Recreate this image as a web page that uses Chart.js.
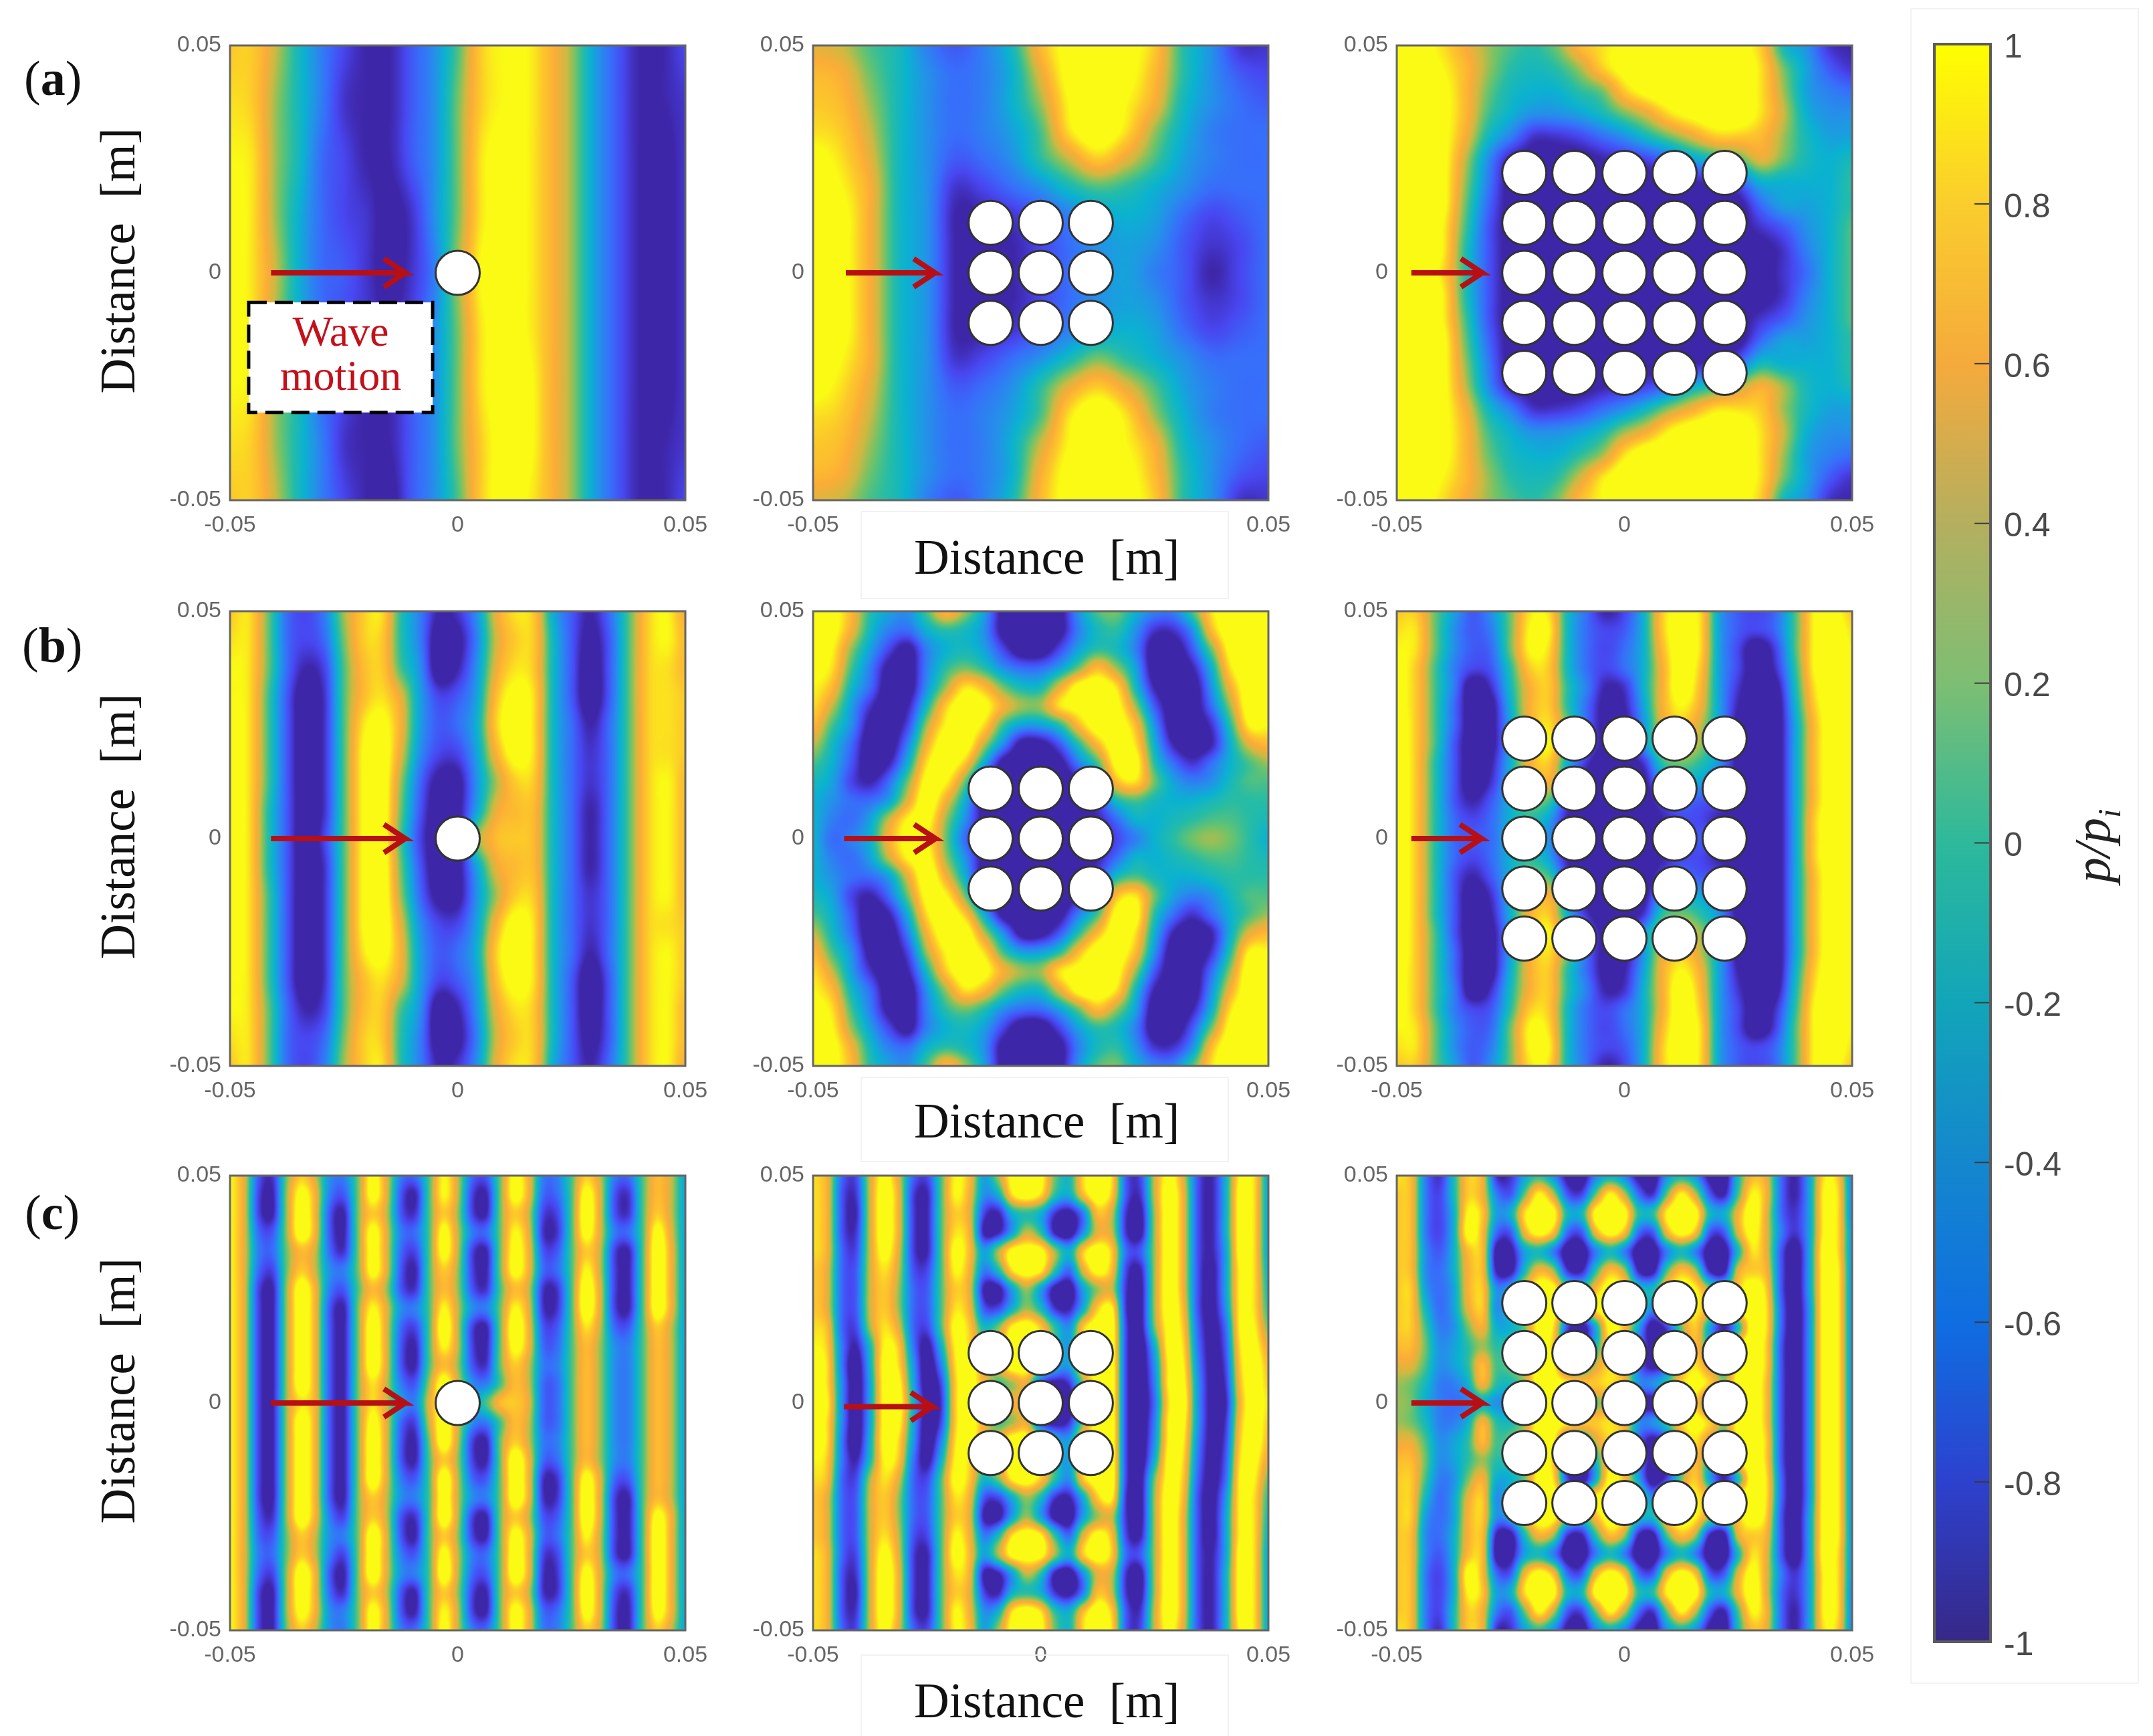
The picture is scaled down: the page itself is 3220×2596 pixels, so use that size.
<!DOCTYPE html>
<html>
<head>
<meta charset="utf-8">
<title>Pressure field p/pi around cylinder arrays</title>
<script src="https://cdn.jsdelivr.net/npm/chart.js@4"></script>
<style>
  html, body { margin: 0; background: #fff; }
  #page { position: relative; width: 3220px; height: 2596px; overflow: hidden; background: #fff; }
  #page canvas { position: absolute; }
  .tag { position: absolute; font: 74px "Liberation Serif", serif; color: #111; line-height: 1; }
  .frame { position: absolute; border: 2px solid #f2f2f2; box-sizing: border-box; }
  #cbLabel { position: absolute; font: italic 76px "Liberation Serif", serif; color: #222; line-height: 1;
             transform: translate(-50%, -50%) rotate(-90deg); white-space: nowrap; }
  #cbLabel sub { font-size: 48px; }
</style>
</head>
<body>
<div id="page"></div>
<script>
// field values are read off the picture, in tenths of p/pi, rows run top to bottom
// anything past +-10 just saturates the colour map
const fieldA1 = [
  [8,8,4,-1,-5,-8,-10,-10,-7,-4,1,8,10,10,7,3,-3,-7,-10,-10,-8],
  [9,8,3,-1,-5,-9,-10,-10,-7,-4,2,8,10,10,7,3,-3,-7,-10,-10,-9],
  [10,9,3,-1,-6,-8,-10,-10,-7,-4,2,9,11,10,7,3,-3,-7,-10,-11,-9],
  [11,9,3,-2,-6,-8,-9,-11,-9,-4,2,9,11,10,7,3,-3,-7,-10,-11,-9],
  [11,9,4,-2,-6,-7,-9,-11,-9,-5,3,10,11,10,7,3,-3,-7,-10,-11,-9],
  [11,9,3,-2,-6,-8,-9,-10,-8,-4,2,9,11,10,7,3,-3,-7,-10,-11,-9],
  [10,9,3,-1,-6,-8,-10,-10,-7,-4,2,9,11,11,7,3,-3,-7,-10,-11,-9],
  [9,8,3,-1,-5,-9,-10,-10,-7,-4,2,8,11,11,7,3,-3,-7,-10,-10,-9],
  [8,8,4,-1,-5,-8,-10,-11,-7,-4,1,8,11,10,7,3,-3,-7,-10,-10,-8]
];
const fieldA2 = [
  [5,4,1,-1,-5,-7,-5,-1,7,11,11,11,8,0,-4,-9,-9],
  [7,6,2,-1,-4,-6,-5,-2,5,11,12,11,7,0,-4,-7,-8],
  [8,7,3,-1,-4,-6,-5,-2,3,10,12,10,6,-1,-4,-6,-7],
  [9,8,4,-1,-4,-6,-5,-3,1,9,12,9,3,-2,-5,-6,-6],
  [11,9,5,-1,-4,-7,-6,-4,0,4,8,5,1,-3,-5,-6,-6],
  [12,10,6,-1,-4,-9,-8,-6,-4,-1,1,0,-2,-4,-6,-6,-6],
  [12,11,6,-1,-4,-10,-10,-9,-7,-5,-3,-2,-3,-6,-8,-7,-6],
  [12,11,6,-1,-4,-10,-11,-10,-8,-6,-4,-3,-4,-7,-9,-8,-6],
  [12,11,6,-1,-4,-10,-11,-10,-8,-6,-4,-3,-5,-7,-10,-8,-6],
  [12,11,6,-1,-4,-10,-11,-10,-8,-6,-4,-3,-4,-7,-9,-8,-6],
  [12,11,6,-1,-4,-10,-10,-9,-7,-5,-3,-2,-3,-6,-8,-7,-6],
  [12,10,6,-1,-4,-9,-8,-6,-4,-1,2,0,-2,-4,-6,-6,-6],
  [11,9,5,-1,-4,-7,-6,-4,0,5,8,5,1,-3,-5,-6,-6],
  [9,8,4,-1,-4,-6,-5,-3,1,9,12,9,3,-2,-5,-6,-6],
  [8,7,3,-1,-4,-6,-5,-2,4,10,12,10,6,-1,-4,-6,-7],
  [7,6,2,-1,-4,-6,-5,-2,6,11,12,11,7,0,-4,-7,-8],
  [5,4,1,-1,-5,-7,-5,-1,7,11,11,11,8,0,-4,-9,-9]
];
const fieldA3 = [
  [10,11,9,6,3,1,0,2,7,9,11,12,12,12,12,11,8,-1,-4,-9,-10],
  [10,12,10,7,3,0,-1,0,3,8,11,12,12,12,12,12,9,2,-3,-7,-9],
  [11,12,11,7,2,-1,-2,-2,0,2,8,11,12,12,12,12,9,3,-3,-5,-6],
  [12,12,11,7,1,-2,-4,-4,-3,-1,2,5,9,11,12,12,9,4,-2,-4,-4],
  [12,12,11,6,-1,-5,-9,-9,-8,-6,-4,-1,2,5,8,8,7,3,-1,-3,-3],
  [12,12,11,4,-4,-10,-11,-11,-11,-10,-9,-8,-6,-3,-1,1,5,2,-1,-2,-1],
  [12,12,11,3,-5,-11,-11,-11,-11,-11,-11,-11,-11,-10,-9,-7,-2,-2,-2,-2,0],
  [12,12,11,2,-6,-11,-11,-11,-11,-11,-11,-11,-11,-11,-11,-11,-6,-3,-3,-2,0],
  [12,12,10,1,-7,-11,-11,-11,-11,-11,-11,-11,-11,-11,-11,-11,-9,-7,-4,-2,1],
  [12,12,10,0,-7,-11,-11,-11,-11,-11,-11,-11,-11,-11,-11,-11,-11,-9,-5,-2,1],
  [12,12,9,0,-7,-11,-11,-11,-11,-11,-11,-11,-11,-11,-11,-11,-11,-9,-6,-2,1],
  [12,12,10,0,-7,-11,-11,-11,-11,-11,-11,-11,-11,-11,-11,-11,-11,-9,-5,-2,1],
  [12,12,10,1,-7,-11,-11,-11,-11,-11,-11,-11,-11,-11,-11,-11,-9,-7,-4,-2,1],
  [12,12,11,2,-6,-11,-11,-11,-11,-11,-11,-11,-11,-11,-11,-11,-6,-3,-3,-2,0],
  [12,12,11,3,-5,-11,-11,-11,-11,-11,-11,-11,-11,-10,-9,-6,-1,-2,-2,-2,0],
  [12,12,11,4,-4,-10,-11,-11,-11,-10,-9,-8,-6,-2,0,3,6,3,-1,-2,-1],
  [12,12,11,6,-1,-5,-9,-9,-8,-6,-4,-1,3,6,9,9,8,3,-1,-3,-3],
  [12,12,11,7,1,-2,-4,-4,-3,-1,3,6,10,12,12,12,9,4,-2,-4,-4],
  [11,12,11,7,2,-1,-2,-2,0,3,9,12,12,12,12,12,9,3,-3,-5,-6],
  [10,12,10,7,3,0,-1,0,4,9,12,12,12,12,12,12,9,2,-3,-7,-9],
  [10,11,9,6,3,1,0,2,7,10,12,12,12,12,12,11,8,-1,-4,-9,-10]
];
const fieldB1 = [
  [8,9,2,-6,-8,-5,3,8,9,0,-5,-10,-9,-4,5,9,8,-2,-7,-10,-6,1,8,10,6],
  [9,9,2,-6,-8,-6,2,8,8,0,-5,-12,-11,-5,4,8,8,-1,-7,-11,-7,1,8,10,7],
  [10,9,2,-6,-10,-8,1,7,8,1,-4,-12,-10,-4,5,9,8,-1,-7,-12,-7,1,8,9,7],
  [10,9,1,-7,-12,-9,1,7,9,5,-3,-8,-7,-3,7,11,9,-1,-7,-12,-7,1,8,9,8],
  [11,9,1,-7,-12,-9,1,9,11,6,-3,-7,-6,-2,8,12,9,-1,-6,-10,-6,1,8,9,8],
  [11,9,1,-7,-12,-9,1,10,12,5,-4,-8,-8,-3,6,11,9,-1,-6,-9,-6,1,8,9,8],
  [11,9,1,-7,-12,-9,1,10,12,3,-6,-11,-11,-4,3,8,8,-1,-6,-9,-6,1,8,10,7],
  [11,9,0,-7,-12,-9,1,10,12,2,-7,-12,-11,-3,5,7,7,-1,-6,-10,-6,1,8,10,7],
  [11,9,0,-7,-12,-8,1,10,12,1,-8,-12,-12,2,7,8,7,-1,-6,-10,-6,1,8,10,7],
  [11,9,0,-7,-12,-9,1,10,12,2,-7,-12,-11,-3,5,7,7,-1,-6,-10,-6,1,8,10,7],
  [11,9,1,-7,-12,-9,1,10,12,3,-6,-11,-11,-4,3,8,8,-1,-6,-9,-6,1,8,10,7],
  [11,9,1,-7,-12,-9,1,10,12,5,-4,-8,-8,-3,6,11,9,-1,-6,-9,-6,1,8,9,8],
  [11,9,1,-7,-12,-9,1,9,11,6,-3,-7,-6,-2,8,12,9,-1,-6,-10,-6,1,8,10,8],
  [10,9,1,-7,-12,-9,1,7,9,5,-3,-8,-7,-3,7,11,9,-1,-7,-12,-7,1,8,10,8],
  [10,9,2,-6,-10,-8,1,7,8,1,-4,-12,-10,-4,5,9,8,-1,-7,-12,-7,1,8,10,7],
  [9,9,2,-6,-8,-6,2,8,8,0,-5,-12,-11,-5,4,8,8,-1,-7,-11,-7,1,8,10,7],
  [8,9,2,-6,-8,-5,3,8,9,0,-5,-10,-9,-4,5,9,8,-2,-7,-10,-6,1,8,10,6]
];
const fieldB2 = [
  [11,11,7,0,-3,-4,1,7,3,-3,-11,-12,-12,-11,-4,1,2,-2,-5,-5,1,9,12,12,11],
  [11,11,6,-1,-5,-6,-2,0,-1,-4,-11,-12,-12,-11,-5,-1,0,-4,-9,-9,-4,7,12,12,11],
  [11,10,3,-3,-8,-11,-5,-2,-1,-3,-8,-12,-12,-8,-3,0,-1,-5,-12,-12,-7,2,11,12,11],
  [11,9,1,-5,-11,-12,-5,0,2,0,-4,-6,-6,-3,2,7,3,-3,-12,-12,-10,-2,9,12,11],
  [10,7,-1,-6,-12,-12,-4,3,9,7,2,-1,-1,5,11,12,9,-1,-10,-12,-12,-4,6,12,11],
  [9,4,-3,-9,-12,-10,-1,8,12,11,6,3,3,9,11,12,11,3,-7,-12,-12,-6,3,12,11],
  [7,1,-4,-11,-12,-8,3,10,12,9,1,-3,-3,0,7,12,12,7,-4,-12,-12,-9,0,10,10],
  [4,-1,-6,-12,-12,-5,6,12,12,4,-4,-11,-11,-7,0,7,12,9,-2,-10,-12,-10,-2,5,7],
  [1,-2,-7,-12,-10,-2,9,12,8,-2,-11,-12,-12,-11,-5,1,11,11,0,-6,-9,-6,-2,1,3],
  [-1,-3,-8,-10,-6,2,11,10,2,-9,-12,-12,-12,-12,-10,-4,7,9,2,-3,-5,-4,-1,1,1],
  [-2,-4,-6,-6,-3,5,12,6,-2,-11,-12,-12,-12,-12,-11,-8,-1,1,-1,-2,-2,-1,0,0,0],
  [-2,-5,-6,-3,4,10,11,3,-4,-11,-12,-12,-12,-12,-11,-10,-6,-2,-2,-1,0,1,1,0,-1],
  [-2,-6,-5,-2,6,11,10,2,-6,-11,-12,-12,-12,-12,-12,-11,-8,-5,-2,0,2,3,2,0,-2],
  [-2,-5,-6,-3,4,10,11,3,-4,-11,-12,-12,-12,-12,-11,-10,-6,-2,-2,-1,0,1,1,0,-1],
  [-2,-4,-6,-6,-3,5,12,6,-2,-11,-12,-12,-12,-12,-11,-8,-1,1,-1,-2,-2,-1,0,0,0],
  [-1,-3,-8,-10,-6,2,11,10,2,-9,-12,-12,-12,-12,-10,-4,7,9,2,-3,-5,-4,-1,1,1],
  [1,-2,-7,-12,-10,-2,9,12,8,-2,-11,-12,-12,-11,-5,1,11,11,0,-6,-9,-6,-2,1,3],
  [4,-1,-6,-12,-12,-5,6,12,12,4,-4,-11,-11,-7,0,7,12,9,-2,-10,-12,-10,-2,5,7],
  [7,1,-4,-11,-12,-8,3,10,12,9,1,-3,-3,0,7,12,12,7,-4,-12,-12,-9,0,10,10],
  [9,4,-3,-9,-12,-10,-1,8,12,11,6,3,3,9,11,12,11,3,-7,-12,-12,-6,3,12,11],
  [10,7,-1,-6,-12,-12,-4,3,9,7,2,-1,-1,5,11,12,9,-1,-10,-12,-12,-4,6,12,11],
  [11,9,1,-5,-11,-12,-5,0,2,0,-4,-6,-6,-3,2,7,3,-3,-12,-12,-10,-2,9,12,11],
  [11,10,3,-3,-8,-11,-5,-2,-1,-3,-8,-12,-12,-8,-3,0,-1,-5,-12,-12,-7,2,11,12,11],
  [11,11,6,-1,-5,-6,-2,0,-1,-4,-11,-12,-12,-11,-5,-1,0,-4,-9,-9,-4,7,12,12,11],
  [11,11,7,0,-3,-4,1,7,3,-3,-11,-12,-12,-11,-4,1,2,-2,-5,-5,1,9,12,12,11]
];
const fieldB3 = [
  [8,8,2,-3,-7,-4,2,9,9,-1,-6,-10,-8,-2,8,11,9,-3,-7,-8,-6,1,10,11,8],
  [9,9,2,-4,-7,-5,2,10,10,-1,-6,-8,-7,-2,8,12,9,-3,-7,-8,-6,1,10,12,9],
  [10,9,2,-4,-7,-6,2,10,9,-1,-6,-8,-6,-2,7,12,9,-3,-8,-12,-8,1,10,12,10],
  [11,8,1,-5,-8,-7,0,8,8,-1,-6,-8,-6,-2,6,12,8,-3,-8,-12,-9,0,10,12,11],
  [11,8,1,-5,-12,-9,-1,6,8,0,-5,-10,-9,-2,6,12,7,-3,-9,-12,-11,-1,9,12,11],
  [11,8,1,-6,-12,-11,-2,6,8,0,-6,-11,-10,-3,6,10,6,-3,-10,-12,-12,-2,8,12,11],
  [12,8,1,-6,-12,-11,-3,6,9,2,-6,-11,-11,-4,5,8,4,-3,-11,-12,-12,-3,7,12,11],
  [12,8,1,-7,-12,-11,-3,6,10,2,-6,-11,-11,-4,4,6,3,-3,-11,-12,-12,-3,7,12,12],
  [12,8,0,-7,-12,-10,-2,6,8,-2,-9,-12,-11,-9,0,2,0,-4,-11,-12,-12,-3,7,12,12],
  [12,8,0,-7,-12,-9,-2,4,6,-3,-11,-12,-12,-11,-4,-2,-3,-6,-11,-12,-12,-3,7,12,12],
  [12,8,0,-7,-10,-7,-2,2,1,-8,-11,-12,-12,-12,-8,-6,-7,-8,-11,-12,-12,-3,7,12,12],
  [12,8,0,-6,-8,-6,-2,0,-3,-10,-11,-12,-12,-12,-10,-8,-8,-10,-11,-12,-12,-3,8,12,12],
  [12,8,0,-6,-7,-6,-2,-1,-4,-10,-11,-12,-12,-12,-10,-9,-7,-9,-11,-12,-12,-3,8,12,12],
  [12,8,0,-6,-8,-6,-2,0,-3,-10,-11,-12,-12,-12,-10,-8,-8,-10,-11,-12,-12,-3,8,12,12],
  [12,8,0,-7,-10,-7,-2,2,1,-8,-11,-12,-12,-12,-8,-6,-7,-8,-11,-12,-12,-3,7,12,12],
  [12,8,0,-7,-12,-9,-2,4,6,-3,-11,-12,-12,-11,-4,-2,-3,-6,-11,-12,-12,-3,7,12,12],
  [12,8,0,-7,-12,-10,-2,6,8,-2,-9,-12,-11,-9,0,2,0,-4,-11,-12,-12,-3,7,12,12],
  [12,8,1,-7,-12,-11,-3,6,10,2,-6,-11,-11,-4,4,6,3,-3,-11,-12,-12,-3,7,12,12],
  [12,8,1,-6,-12,-11,-3,6,9,2,-6,-11,-11,-4,5,8,4,-3,-11,-12,-12,-3,7,12,11],
  [11,8,1,-6,-12,-11,-2,6,8,0,-6,-11,-10,-3,6,10,6,-3,-10,-12,-12,-2,8,12,11],
  [11,8,1,-5,-12,-9,-1,6,8,0,-5,-10,-9,-2,6,12,7,-3,-9,-12,-11,-1,9,12,11],
  [11,8,1,-5,-8,-7,0,8,8,-1,-6,-8,-6,-2,6,12,8,-3,-8,-12,-9,0,10,12,11],
  [10,9,2,-4,-7,-6,2,10,9,-1,-6,-8,-6,-2,7,12,9,-3,-8,-12,-8,1,10,12,10],
  [9,9,2,-4,-7,-5,2,10,10,-1,-6,-8,-7,-2,8,12,9,-3,-7,-8,-6,1,10,12,9],
  [8,8,2,-3,-7,-4,2,9,9,-1,-6,-10,-8,-2,8,11,9,-3,-7,-8,-6,1,10,11,8]
];
const fieldC1 = [
  [10,5,-7,-9,2,8,4,-4,-5,2,11,5,-5,-6,1,10,4,-6,-7,2,11,6,-5,-5,1,8,4,-5,-6,1,7,4,-3],
  [10,5,-8,-10,3,11,6,-5,-7,2,11,5,-7,-10,1,10,4,-8,-10,2,11,6,-6,-6,1,11,5,-7,-9,1,7,4,-3],
  [10,5,-8,-10,3,12,6,-7,-10,2,8,4,-7,-9,1,8,3,-8,-10,2,8,4,-8,-8,1,12,5,-7,-9,1,8,4,-3],
  [10,5,-6,-7,3,12,6,-7,-10,2,11,5,-5,-6,1,11,4,-5,-6,2,10,5,-9,-9,1,11,5,-5,-6,1,11,5,-3],
  [10,5,-5,-6,2,7,4,-6,-9,2,11,5,-6,-8,1,11,4,-8,-10,2,11,6,-7,-7,1,8,4,-8,-10,1,12,6,-3],
  [10,5,-6,-8,2,8,4,-4,-5,2,11,5,-7,-10,1,8,3,-8,-10,2,11,6,-6,-6,1,10,4,-8,-10,1,12,6,-3],
  [10,5,-8,-10,3,12,6,-5,-7,1,7,3,-7,-9,1,7,3,-7,-9,1,7,4,-9,-9,1,12,5,-8,-10,1,12,6,-3],
  [10,5,-8,-10,3,12,6,-7,-10,2,10,5,-4,-5,1,10,4,-4,-5,2,10,5,-9,-9,1,12,5,-8,-10,1,12,6,-3],
  [10,5,-8,-10,3,12,6,-7,-10,2,12,5,-6,-8,1,12,4,-8,-10,2,12,6,-7,-7,1,9,4,-6,-7,1,8,4,-3],
  [10,5,-8,-10,3,12,6,-7,-10,2,12,5,-7,-10,1,10,4,-8,-10,2,11,6,-6,-6,1,7,3,-4,-5,1,7,4,-3],
  [10,5,-8,-10,3,12,6,-7,-10,2,12,5,-7,-10,1,7,3,-7,-9,2,8,4,-5,-5,1,7,3,-4,-5,1,7,4,-3],
  [10,5,-8,-10,3,12,6,-7,-10,2,9,4,-5,-7,3,12,5,-4,-5,1,7,4,-6,-6,1,7,3,-4,-5,1,7,4,-3],
  [10,5,-8,-10,3,9,6,-7,-10,2,9,4,-3,-5,5,12,8,-2,1,7,8,5,-6,-6,1,7,3,-4,-5,1,7,4,-3],
  [10,5,-8,-10,3,12,6,-7,-10,2,11,5,-6,-8,4,12,5,-4,-5,1,7,4,-6,-6,1,7,3,-4,-5,1,7,4,-3],
  [10,5,-8,-10,3,12,6,-7,-10,2,12,5,-7,-10,2,12,4,-8,-10,2,8,4,-5,-5,1,7,3,-4,-5,1,7,4,-3],
  [10,5,-8,-10,3,12,6,-7,-10,2,12,5,-7,-10,1,8,3,-8,-10,2,12,6,-6,-6,1,7,3,-4,-5,1,7,4,-3],
  [10,5,-8,-10,3,12,6,-7,-10,2,12,5,-5,-7,1,12,4,-6,-7,2,12,6,-9,-9,1,11,5,-6,-7,1,7,4,-3],
  [10,5,-8,-10,3,12,6,-7,-10,2,8,4,-4,-5,1,12,4,-4,-5,2,12,6,-9,-9,1,12,5,-8,-10,1,7,4,-3],
  [10,5,-7,-9,3,12,6,-5,-8,2,8,4,-7,-9,1,12,4,-8,-10,2,8,4,-7,-7,1,12,5,-8,-10,1,11,6,-3],
  [10,5,-6,-7,2,8,4,-4,-5,2,12,5,-7,-10,1,8,3,-8,-10,2,11,6,-6,-6,1,10,4,-8,-10,1,12,6,-3],
  [10,5,-5,-6,2,8,4,-5,-8,2,12,5,-5,-7,1,11,4,-5,-6,2,12,6,-8,-8,1,8,4,-8,-10,1,12,6,-3],
  [10,5,-6,-8,3,12,6,-7,-10,2,12,5,-4,-5,1,12,4,-6,-7,2,12,6,-9,-9,1,11,5,-5,-6,1,12,6,-3],
  [10,5,-8,-10,3,12,6,-6,-9,2,8,4,-7,-10,1,8,3,-8,-10,2,8,4,-9,-9,1,12,5,-7,-9,1,12,6,-3],
  [10,5,-8,-10,3,11,6,-4,-5,2,11,5,-7,-10,1,10,4,-8,-10,2,11,6,-6,-6,1,11,5,-8,-10,1,11,6,-3],
  [10,5,-8,-10,2,8,4,-4,-5,2,11,5,-5,-6,1,11,4,-5,-6,2,11,6,-5,-5,1,8,4,-8,-10,1,8,4,-3]
];
const fieldC2 = [
  [9,6,-6,-8,4,11,5,-6,-8,1,10,7,-3,3,11,12,11,2,-1,9,12,9,-7,-8,4,11,5,-7,-10,-2,10,9,-3],
  [9,6,-7,-9,4,12,6,-8,-10,1,10,6,-4,-2,9,12,9,0,-2,7,12,8,-7,-9,4,12,6,-7,-10,-2,11,9,-3],
  [9,6,-7,-10,4,12,6,-8,-10,1,8,5,-8,-10,-2,0,-2,-9,-11,-5,7,4,-9,-11,3,12,6,-7,-10,-2,11,9,-3],
  [9,6,-7,-9,4,12,6,-8,-10,1,9,6,-10,-10,-3,4,0,-10,-12,-4,5,4,-9,-11,3,12,6,-7,-10,-2,11,9,-3],
  [9,6,-6,-8,4,11,5,-8,-10,1,11,7,-3,3,11,12,11,3,-2,8,12,8,-6,-7,3,12,6,-7,-10,-3,11,9,-3],
  [8,5,-6,-7,4,9,4,-7,-8,1,10,6,-5,-1,9,12,10,0,-6,5,11,7,-8,-10,3,12,6,-7,-11,-3,10,9,-2],
  [8,5,-6,-7,4,8,3,-6,-7,1,8,5,-10,-11,-3,3,-3,-11,-12,-3,3,4,-9,-11,3,12,6,-7,-11,-3,10,9,-1],
  [8,5,-6,-7,4,8,3,-6,-7,1,9,6,-7,-8,-2,3,-1,-9,-10,-2,8,10,-9,-11,3,12,7,-7,-11,-4,10,9,0],
  [9,7,-6,-8,3,9,5,-6,-8,1,11,8,-1,2,10,12,8,0,-4,8,12,12,-8,-11,2,11,8,-6,-11,-6,10,10,2],
  [10,8,-5,-10,-1,10,8,-5,-11,-2,10,9,2,4,12,12,8,0,-3,8,12,12,-8,-12,-2,11,9,-5,-11,-7,9,11,5],
  [11,9,-5,-12,-2,11,9,-3,-12,-5,9,12,5,6,12,12,6,-1,-3,8,12,12,-8,-12,-4,10,10,-4,-11,-8,8,12,7],
  [11,9,-4,-12,-3,11,11,-2,-12,-8,8,12,6,1,3,5,-8,-11,-9,2,12,12,-8,-12,-5,10,11,-3,-11,-9,7,12,8],
  [11,10,-4,-12,-3,11,12,-1,-11,-9,8,12,8,6,6,6,-7,-12,-12,-3,12,12,-8,-12,-6,9,12,-3,-11,-10,6,12,9],
  [11,9,-4,-12,-3,11,11,-2,-12,-8,8,12,6,1,3,5,-8,-11,-9,2,12,12,-8,-12,-5,10,11,-3,-11,-9,7,12,8],
  [11,9,-5,-12,-2,11,9,-3,-12,-5,9,12,5,6,12,12,6,-1,-3,8,12,12,-8,-12,-4,10,10,-4,-11,-8,8,12,7],
  [10,8,-5,-10,-1,10,8,-5,-11,-2,10,9,2,4,12,12,8,0,-3,8,12,12,-8,-12,-2,11,9,-5,-11,-7,9,11,5],
  [9,7,-6,-8,3,9,5,-6,-8,1,11,8,-1,2,10,12,8,0,-4,8,12,12,-8,-11,2,11,8,-6,-11,-6,10,10,2],
  [8,5,-6,-7,4,8,3,-6,-7,1,9,6,-7,-8,-2,3,-1,-9,-10,-2,8,10,-9,-11,3,12,7,-7,-11,-4,10,9,0],
  [8,5,-6,-7,4,8,3,-6,-7,1,8,5,-10,-11,-3,3,-3,-11,-12,-3,3,4,-9,-11,3,12,6,-7,-11,-3,10,9,-1],
  [8,5,-6,-7,4,9,4,-7,-8,1,10,6,-5,-1,9,12,10,0,-6,5,11,7,-8,-10,3,12,6,-7,-11,-3,10,9,-2],
  [9,6,-6,-8,4,11,5,-8,-10,1,11,7,-3,3,11,12,11,3,-2,8,12,8,-6,-7,3,12,6,-7,-10,-3,11,9,-3],
  [9,6,-7,-9,4,12,6,-8,-10,1,9,6,-10,-10,-3,4,0,-10,-12,-4,5,4,-9,-11,3,12,6,-7,-10,-2,11,9,-3],
  [9,6,-7,-10,4,12,6,-8,-10,1,8,5,-8,-10,-2,0,-2,-9,-11,-5,7,4,-9,-11,3,12,6,-7,-10,-2,11,9,-3],
  [9,6,-7,-9,4,12,6,-8,-10,1,10,6,-4,-2,9,12,9,0,-2,7,12,8,-7,-9,4,12,6,-7,-10,-2,11,9,-3],
  [9,6,-6,-8,4,11,5,-6,-8,1,10,7,-3,3,11,12,11,2,-1,9,12,9,-7,-8,4,11,5,-7,-10,-2,10,9,-3]
];
const fieldC3 = [
  [9,7,-5,-9,-1,8,6,-9,-9,-3,0,-4,-11,-12,-5,-2,-5,-11,-12,-4,-1,-4,-11,-12,-1,7,5,-6,-10,-3,9,8,-5],
  [8,7,-5,-8,-1,8,6,-5,-7,2,10,4,-7,-8,2,10,4,-6,-9,2,10,4,-7,-10,1,10,6,-6,-10,-3,10,9,-5],
  [8,7,-5,-8,-2,10,8,-3,-2,9,12,11,-1,-1,11,12,11,0,0,10,12,11,-1,-2,6,12,5,-6,-9,-3,10,9,-5],
  [8,7,-5,-8,-2,11,7,-6,-7,6,11,7,-6,-7,6,11,7,-6,-7,6,11,7,-7,-7,5,11,5,-5,-9,-3,10,9,-4],
  [8,7,-4,-7,-2,7,7,-11,-11,-3,-1,-5,-12,-12,-5,-1,-5,-12,-12,-5,-1,-5,-12,-12,-1,9,5,-7,-12,-3,11,9,-4],
  [8,7,-4,-6,-2,6,7,-10,-11,-1,6,3,-9,-10,0,7,3,-10,-11,1,7,3,-10,-11,5,8,6,-7,-12,-3,11,10,-4],
  [8,8,-3,-6,-3,6,8,-4,-2,6,12,11,2,0,7,12,9,0,-1,8,12,10,3,0,8,12,8,-7,-12,-3,11,10,-4],
  [8,8,-1,-6,-3,5,8,-4,0,6,12,12,4,2,10,12,7,3,-4,6,12,10,6,-2,11,12,9,-6,-12,-4,11,10,-4],
  [8,8,1,-5,-4,2,6,-2,-2,2,11,9,-8,-12,-2,11,7,-3,-12,-8,2,8,-3,-10,-1,12,9,-6,-12,-4,11,10,-4],
  [7,7,2,-4,-3,0,3,0,1,3,11,8,-6,-9,-1,9,5,-5,-11,-8,3,7,-1,-5,10,12,8,-7,-12,-4,11,10,-4],
  [5,5,1,-4,-3,0,7,1,2,5,12,10,-2,-3,4,9,6,-6,-11,-7,5,9,3,-2,11,12,8,-7,-12,-4,11,10,-4],
  [3,2,-1,-5,-5,-2,6,0,-1,3,12,12,10,8,8,9,6,-4,-4,0,8,11,8,3,11,12,7,-7,-12,-4,11,10,-4],
  [3,2,-2,-5,-6,-5,-2,-4,-4,1,11,12,11,6,2,6,4,-9,-12,-8,6,8,-3,-6,10,12,7,-7,-12,-4,11,10,-4],
  [3,2,-1,-5,-5,-2,6,0,-1,3,12,12,10,8,8,9,6,-4,-4,0,8,11,8,3,11,12,7,-7,-12,-4,11,10,-4],
  [5,5,1,-4,-3,0,7,1,2,5,12,10,-2,-3,4,9,6,-6,-11,-7,5,9,3,-2,11,12,8,-7,-12,-4,11,10,-4],
  [7,7,2,-4,-3,0,3,0,1,3,11,8,-6,-9,-1,9,5,-5,-11,-8,3,7,-1,-5,10,12,8,-7,-12,-4,11,10,-4],
  [8,8,1,-5,-4,2,6,-2,-2,2,11,9,-8,-12,-2,11,7,-3,-12,-8,2,8,-3,-10,-1,12,9,-6,-12,-4,11,10,-4],
  [8,8,-1,-6,-3,5,8,-4,0,6,12,12,4,2,10,12,7,3,-4,6,12,10,6,-2,11,12,9,-6,-12,-4,11,10,-4],
  [8,8,-3,-6,-3,6,8,-4,-2,6,12,11,2,0,7,12,9,0,-1,8,12,10,3,0,8,12,8,-7,-12,-3,11,10,-4],
  [8,7,-4,-6,-2,6,7,-10,-11,-1,6,3,-9,-10,0,7,3,-10,-11,1,7,3,-10,-11,5,8,6,-7,-12,-3,11,10,-4],
  [8,7,-4,-7,-2,7,7,-11,-11,-3,-1,-5,-12,-12,-5,-1,-5,-12,-12,-5,-1,-5,-12,-12,-1,9,5,-7,-12,-3,11,9,-4],
  [8,7,-5,-8,-2,11,7,-6,-7,6,11,7,-6,-7,6,11,7,-6,-7,6,11,7,-7,-7,5,11,5,-5,-9,-3,10,9,-4],
  [8,7,-5,-8,-2,10,8,-3,-2,9,12,11,-1,-1,11,12,11,0,0,10,12,11,-1,-2,6,12,5,-6,-9,-3,10,9,-5],
  [8,7,-5,-8,-1,8,6,-5,-7,2,10,4,-7,-8,2,10,4,-6,-9,2,10,4,-7,-10,1,10,6,-6,-10,-3,10,9,-5],
  [9,7,-5,-9,-1,8,6,-9,-9,-3,0,-4,-11,-12,-5,-2,-5,-11,-12,-4,-1,-4,-11,-12,-1,7,5,-6,-10,-3,9,8,-5]
];

// cylinder centres in metres
const cylOne = [0];
const cylThree = [-0.011, 0, 0.011];
const cylFive = [-0.022, -0.011, 0, 0.011, 0.022];

// wave arrow per panel, in metres
const arrowStart = [-0.041, -0.0428, -0.0468, -0.041, -0.0432, -0.0468, -0.041, -0.0432, -0.0468];
const arrowTip = [-0.0115, -0.0232, -0.0312, -0.0115, -0.0231, -0.0314, -0.0115, -0.0238, -0.0312];
const arrowLevel = [0, 0, 0, 0, 0, 0, 0, -0.0008, 0];

const axisTicks = [-0.05, 0, 0.05];
const colorbarTicks = [-1, -0.8, -0.6, -0.4, -0.2, 0, 0.2, 0.4, 0.6, 0.8, 1];
const rowTags = ["a", "b", "c"];
const waveWords = ["Wave", "motion"];

// colour map of the panels, -1 to 1
const fieldColors = [
  [62,38,168],[72,70,240],[55,110,250],[36,145,232],[10,178,208],[38,188,165],
  [110,195,105],[205,185,65],[252,172,55],[252,200,42],[250,250,20]
];
// the colorbar in the picture is a bit duller than the panels, -1 to 1
const colorbarColors = [
  [55,40,135],[45,65,205],[15,110,225],[20,135,205],[18,165,185],[45,185,155],
  [125,190,115],[180,175,95],[245,170,60],[250,205,45],[255,255,0]
];

const colLefts = [344, 1216, 2089];
const rowTops = [68, 914, 1758];
const panelW = 681;
const panelH = 680;
const rowFoot = [135, 132, 155];
const padTop = 40;
const padRight = 60;
// the 0 tick of these panels is hidden under the label box in the picture
const hideZeroTick = [1, 4];

const page = document.getElementById("page");

function fieldRgb(v) {
  const t = (Math.max(-1, Math.min(1, v)) + 1) / 2 * (fieldColors.length - 1);
  const i = Math.min(Math.floor(t), fieldColors.length - 2);
  const f = t - i;
  const a = fieldColors[i], b = fieldColors[i + 1];
  return [a[0] + (b[0] - a[0]) * f, a[1] + (b[1] - a[1]) * f, a[2] + (b[2] - a[2]) * f];
}

function cubic(p0, p1, p2, p3, t) {
  return p1 + 0.5 * t * (p2 - p0 + t * (2 * p0 - 5 * p1 + 4 * p2 - p3 + t * (3 * (p1 - p2) + p3 - p0)));
}

// smooth shading between the grid nodes, like shading interp in matlab
function sampleField(grid, fx, fy) {
  const ix = Math.floor(fx), iy = Math.floor(fy);
  const nx = grid[0].length, ny = grid.length;
  const col = [];
  for (let j = -1; j <= 2; j++) {
    const row = grid[Math.max(0, Math.min(ny - 1, iy + j))];
    const at = k => row[Math.max(0, Math.min(nx - 1, ix + k))];
    col.push(cubic(at(-1), at(0), at(1), at(2), fx - ix));
  }
  return cubic(col[0], col[1], col[2], col[3], fy - iy) / 10;
}

const fieldPlugin = {
  id: "fieldPlugin",
  beforeDatasetsDraw(chart, args, opts) {
    const { ctx, chartArea, scales } = chart;
    const w = Math.round(chartArea.width), h = Math.round(chartArea.height);
    const off = document.createElement("canvas");
    off.width = w;
    off.height = h;
    const octx = off.getContext("2d");
    const img = octx.createImageData(w, h);
    const grid = opts.grid;
    const nx = grid[0].length, ny = grid.length;
    for (let py = 0; py < h; py++) {
      const yVal = scales.y.getValueForPixel(chartArea.top + py + 0.5);
      const fy = (scales.y.max - yVal) / (scales.y.max - scales.y.min) * (ny - 1);
      for (let px = 0; px < w; px++) {
        const xVal = scales.x.getValueForPixel(chartArea.left + px + 0.5);
        const fx = (xVal - scales.x.min) / (scales.x.max - scales.x.min) * (nx - 1);
        const c = fieldRgb(sampleField(grid, fx, fy));
        const k = (py * w + px) * 4;
        img.data[k] = c[0];
        img.data[k + 1] = c[1];
        img.data[k + 2] = c[2];
        img.data[k + 3] = 255;
      }
    }
    octx.putImageData(img, 0, 0);
    ctx.drawImage(off, chartArea.left, chartArea.top);
  },
  afterDatasetsDraw(chart) {
    const { ctx, chartArea } = chart;
    ctx.save();
    ctx.strokeStyle = "#666";
    ctx.lineWidth = 3;
    ctx.strokeRect(chartArea.left, chartArea.top, chartArea.width, chartArea.height);
    ctx.restore();
  }
};

// the dashed "Wave motion" note of the first panel
const notePlugin = {
  id: "notePlugin",
  afterDatasetsDraw(chart) {
    const { ctx, scales } = chart;
    const x0 = scales.x.getPixelForValue(-0.0459), x1 = scales.x.getPixelForValue(-0.0055);
    const y0 = scales.y.getPixelForValue(-0.0065), y1 = scales.y.getPixelForValue(-0.0307);
    ctx.save();
    ctx.fillStyle = "#fff";
    ctx.fillRect(x0, y0, x1 - x0, y1 - y0);
    ctx.strokeStyle = "#000";
    ctx.lineWidth = 5;
    ctx.setLineDash([27, 12]);
    ctx.strokeRect(x0, y0, x1 - x0, y1 - y0);
    ctx.setLineDash([]);
    ctx.fillStyle = "#c4101a";
    ctx.font = '64px "Liberation Serif", serif';
    ctx.textAlign = "center";
    ctx.textBaseline = "middle";
    ctx.fillText(waveWords[0], (x0 + x1) / 2, (y0 + y1) / 2 - 34);
    ctx.fillText(waveWords[1], (x0 + x1) / 2, (y0 + y1) / 2 + 32);
    ctx.restore();
  }
};

function makeAxis(size, isX, titleOn, hideZero) {
  return {
    type: "linear",
    min: -0.05,
    max: 0.05,
    grid: { display: false, drawTicks: false },
    border: { display: false },
    afterBuildTicks: s => { s.ticks = axisTicks.map(v => ({ value: v })); },
    afterFit: s => { if (isX) s.height = size; else s.width = size; },
    ticks: {
      autoSkip: false,
      maxRotation: 0,
      padding: isX ? 17 : 13,
      color: "#666",
      font: { family: '"Liberation Sans"', size: 34 },
      callback: v => (hideZero && v === 0 ? "" : String(v))
    },
    title: {
      display: titleOn,
      // the leading spaces nudge the text off the axis centre, as in the picture
      text: isX ? " Distance  [m]" : "  Distance  [m]",
      color: "#111",
      padding: 0,
      font: { family: '"Liberation Serif"', size: 73, lineHeight: 1.2 }
    }
  };
}

function drawPanel(row, col, grid, cyl) {
  const index = row * 3 + col;
  const left = col === 0 ? 138 : colLefts[col] - 100;
  const top = rowTops[row] - padTop;
  const canvas = document.createElement("canvas");
  canvas.width = colLefts[col] - left + panelW + padRight;
  canvas.height = padTop + panelH + rowFoot[row];
  canvas.style.left = left + "px";
  canvas.style.top = top + "px";
  page.appendChild(canvas);

  const points = [];
  cyl.forEach(y => cyl.forEach(x => points.push({ x: x, y: y })));
  const level = arrowLevel[index], tip = arrowTip[index];
  const arrow = [
    { x: arrowStart[index], y: level }, { x: tip, y: level },
    { x: tip - 0.0047, y: level + 0.0031 }, { x: tip, y: level },
    { x: tip - 0.0047, y: level - 0.0031 }
  ];

  const plugins = [fieldPlugin];
  if (index === 0) plugins.push(notePlugin);

  new Chart(canvas, {
    type: "scatter",
    data: {
      datasets: [
        {
          label: "Cylinders",
          data: points,
          pointRadius: 33,
          pointBackgroundColor: "#fff",
          pointBorderColor: "#333",
          pointBorderWidth: 3
        },
        {
          label: "Wave motion",
          data: arrow,
          showLine: true,
          pointRadius: 0,
          borderColor: "#b80f14",
          borderWidth: 8,
          borderJoinStyle: "miter"
        }
      ]
    },
    options: {
      responsive: false,
      animation: false,
      events: [],
      devicePixelRatio: 1,
      layout: { padding: { top: padTop, right: padRight, left: 0, bottom: 0 } },
      plugins: { legend: { display: false }, tooltip: { enabled: false }, fieldPlugin: { grid: grid } },
      scales: {
        x: makeAxis(rowFoot[row], true, col === 1, hideZeroTick.includes(index)),
        y: makeAxis(colLefts[col] - left, false, col === 0, false)
      }
    },
    plugins: plugins
  });
}

const panelFields = [fieldA1, fieldA2, fieldA3, fieldB1, fieldB2, fieldB3, fieldC1, fieldC2, fieldC3];
const panelCyls = [cylOne, cylThree, cylFive];
for (let r = 0; r < 3; r++) {
  for (let c = 0; c < 3; c++) {
    drawPanel(r, c, panelFields[r * 3 + c], panelCyls[c]);
  }
}

// colorbar
const stripPlugin = {
  id: "stripPlugin",
  beforeDatasetsDraw(chart) {
    const { ctx, chartArea, scales } = chart;
    const y = scales.y;
    const grad = ctx.createLinearGradient(0, y.getPixelForValue(-1), 0, y.getPixelForValue(1));
    colorbarColors.forEach((c, i) => {
      grad.addColorStop(i / (colorbarColors.length - 1), "rgb(" + c.join(",") + ")");
    });
    ctx.save();
    ctx.fillStyle = grad;
    ctx.fillRect(chartArea.left, chartArea.top, chartArea.width, chartArea.height);
    ctx.strokeStyle = "#3a3a3a";
    ctx.lineWidth = 2;
    y.ticks.forEach(t => {
      if (Math.abs(t.value) === 1) return;
      const py = y.getPixelForValue(t.value);
      ctx.beginPath();
      ctx.moveTo(chartArea.right - 24, py);
      ctx.lineTo(chartArea.right, py);
      ctx.stroke();
    });
    ctx.strokeStyle = "#5c5c5c";
    ctx.lineWidth = 4;
    ctx.strokeRect(chartArea.left, chartArea.top, chartArea.width, chartArea.height);
    ctx.restore();
  }
};

const cbCanvas = document.createElement("canvas");
cbCanvas.width = 341;
cbCanvas.height = 2596;
cbCanvas.style.left = "2857px";
cbCanvas.style.top = "0px";
page.appendChild(cbCanvas);

new Chart(cbCanvas, {
  type: "scatter",
  data: { datasets: [{ label: "p/pi", data: [] }] },
  options: {
    responsive: false,
    animation: false,
    events: [],
    devicePixelRatio: 1,
    layout: { padding: { top: 66, bottom: 141, left: 36, right: 0 } },
    plugins: { legend: { display: false }, tooltip: { enabled: false } },
    scales: {
      x: { display: false, min: 0, max: 1 },
      y: {
        position: "right",
        min: -1,
        max: 1,
        grid: { display: false, drawTicks: false },
        border: { display: false },
        afterBuildTicks: s => { s.ticks = colorbarTicks.map(v => ({ value: v })); },
        afterFit: s => { s.width = 221; },
        ticks: {
          autoSkip: false,
          padding: 20,
          labelOffset: 6,
          color: "#4a4a4a",
          font: { family: '"Liberation Sans"', size: 50 },
          callback: v => String(v)
        }
      }
    }
  },
  plugins: [stripPlugin]
});

// page level bits that sit outside the axes
function addFrame(x, y, w, h) {
  const d = document.createElement("div");
  d.className = "frame";
  d.style.cssText = "left:" + x + "px;top:" + y + "px;width:" + w + "px;height:" + h + "px";
  page.appendChild(d);
}
addFrame(2857, 12, 342, 2506);
addFrame(1287, 764, 551, 132);
addFrame(1287, 1610, 551, 128);
addFrame(1287, 2474, 551, 140);

const tagX = [36, 33, 37];
const tagY = [80, 928, 1776];
rowTags.forEach((t, i) => {
  const d = document.createElement("div");
  d.className = "tag";
  d.style.left = tagX[i] + "px";
  d.style.top = tagY[i] + "px";
  d.innerHTML = "(<b>" + t + "</b>)";
  page.appendChild(d);
});

const cbLabel = document.createElement("div");
cbLabel.id = "cbLabel";
cbLabel.style.left = "3135px";
cbLabel.style.top = "1265px";
cbLabel.innerHTML = "p/p<sub>i</sub>";
page.appendChild(cbLabel);
</script>
</body>
</html>
